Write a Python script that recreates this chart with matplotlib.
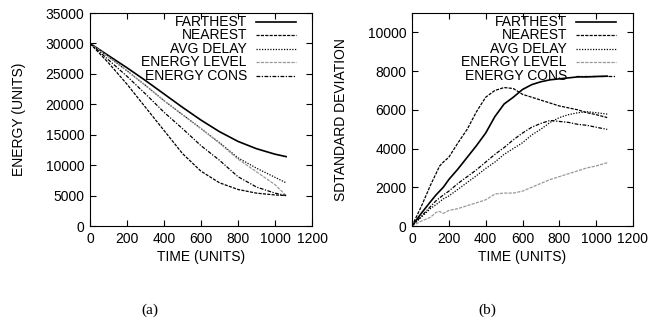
import matplotlib
matplotlib.use("Agg")
import matplotlib.pyplot as plt

plt.rcParams['font.family'] = ['Liberation Sans', 'DejaVu Sans']

series_names = ["FARTHEST", "NEAREST", "AVG DELAY", "ENERGY LEVEL", "ENERGY CONS"]

# (a) energy vs time
energy_time = [0, 100, 200, 300, 400, 500, 600, 700, 800, 900, 1000, 1060]
energy = {
    "FARTHEST":     [30000, 28000, 26000, 23900, 21700, 19500, 17400, 15500, 13900, 12700, 11800, 11400],
    "NEAREST":      [30000, 26800, 23300, 19500, 15700, 11900, 9000, 7100, 6000, 5400, 5100, 5000],
    "AVG DELAY":    [30000, 27800, 25500, 23100, 20600, 18300, 16000, 13700, 11200, 9500, 8000, 7100],
    "ENERGY LEVEL": [30000, 27800, 25500, 23100, 20600, 18300, 16000, 13600, 11000, 8900, 6800, 5000],
    "ENERGY CONS":  [30000, 27300, 24600, 21700, 18700, 16000, 13200, 10800, 8100, 6400, 5400, 5000],
}

# (b) standard deviation vs time
sd_time = [0, 50, 100, 130, 150, 170, 200, 250, 300, 350, 400, 450, 500, 550, 600,
           650, 700, 750, 800, 850, 900, 950, 1000, 1060]
sd = {
    "FARTHEST":     [0, 650, 1250, 1600, 1800, 2000, 2400, 2950, 3550, 4150, 4800, 5650, 6300,
                     6650, 7050, 7300, 7450, 7550, 7600, 7650, 7700, 7700, 7720, 7740],
    "NEAREST":      [0, 1000, 2100, 2700, 3100, 3300, 3550, 4300, 5000, 5900, 6650, 7000, 7150,
                     7100, 6800, 6650, 6500, 6350, 6200, 6100, 6000, 5850, 5750, 5600],
    "AVG DELAY":    [0, 450, 900, 1100, 1250, 1400, 1550, 1900, 2250, 2600, 2970, 3300, 3700,
                     4000, 4300, 4700, 5000, 5350, 5600, 5750, 5850, 5900, 5850, 5780],
    "ENERGY LEVEL": [0, 250, 450, 700, 750, 650, 800, 900, 1050, 1200, 1350, 1650, 1700,
                     1700, 1800, 2000, 2200, 2400, 2550, 2700, 2850, 3000, 3100, 3270],
    "ENERGY CONS":  [0, 500, 1000, 1300, 1450, 1600, 1800, 2200, 2550, 2900, 3300, 3700, 4050,
                     4450, 4800, 5100, 5300, 5450, 5400, 5350, 5250, 5200, 5100, 4990],
}

styles = {
    "FARTHEST":     dict(color="black", linestyle="-", linewidth=1.2),
    "NEAREST":      dict(color="black", linestyle=(0, (2.5, 1.0)), linewidth=0.9),
    "AVG DELAY":    dict(color="black", linestyle=(0, (1.0, 1.2)), linewidth=0.9),
    "ENERGY LEVEL": dict(color="#999999", linestyle=(0, (2.5, 1.0)), linewidth=0.9),
    "ENERGY CONS":  dict(color="black", linestyle=(0, (3.0, 1.2, 1.0, 1.2)), linewidth=0.9),
}

fig = plt.figure(figsize=(6.59, 3.29), dpi=100)
W, H = 659, 329
ax_a = fig.add_axes([90 / W, 1 - 226 / H, 222 / W, 213 / H])
ax_b = fig.add_axes([412 / W, 1 - 226 / H, 221 / W, 213 / H])


def draw_panel(ax, x, data, ymax, ystep, ylabel, text_x, line_x0, line_x1):
    for name in series_names:
        ax.plot(x, data[name], **styles[name])
    ax.set_xlim(0, 1200)
    ax.set_ylim(0, ymax)
    ax.set_xticks(range(0, 1201, 200))
    ax.set_yticks(range(0, ymax + 1, ystep))
    ax.tick_params(direction="in", top=True, right=True, length=4, width=0.8,
                   labelsize=10, pad=4)
    for s in ax.spines.values():
        s.set_linewidth(0.8)
    ax.set_xlabel("TIME (UNITS)", fontsize=10, labelpad=3)
    ax.set_ylabel(ylabel, fontsize=10, labelpad=14)
    # gnuplot-style key: right-aligned text, sample line on the right
    for i, name in enumerate(series_names):
        yy = 0.958 - i * 0.0634
        ax.text(text_x, yy, name, transform=ax.transAxes, ha="right", va="center",
                fontsize=10)
        ax.plot([line_x0, line_x1], [yy, yy], transform=ax.transAxes,
                clip_on=False, **styles[name])


draw_panel(ax_a, energy_time, energy, 35000, 5000, "ENERGY (UNITS)", 0.707, 0.748, 0.928)
draw_panel(ax_b, sd_time, sd, 11000, 2000, "SDTANDARD DEVIATION", 0.701, 0.742, 0.923)
ax_b.set_yticks(range(0, 10001, 2000))

fig.text(150 / W, 1 - 310 / H, "(a)", ha="center", va="center", fontsize=11,
         family="Liberation Serif")
fig.text(487 / W, 1 - 310 / H, "(b)", ha="center", va="center", fontsize=11,
         family="Liberation Serif")

fig.savefig("out.png", dpi=100)
